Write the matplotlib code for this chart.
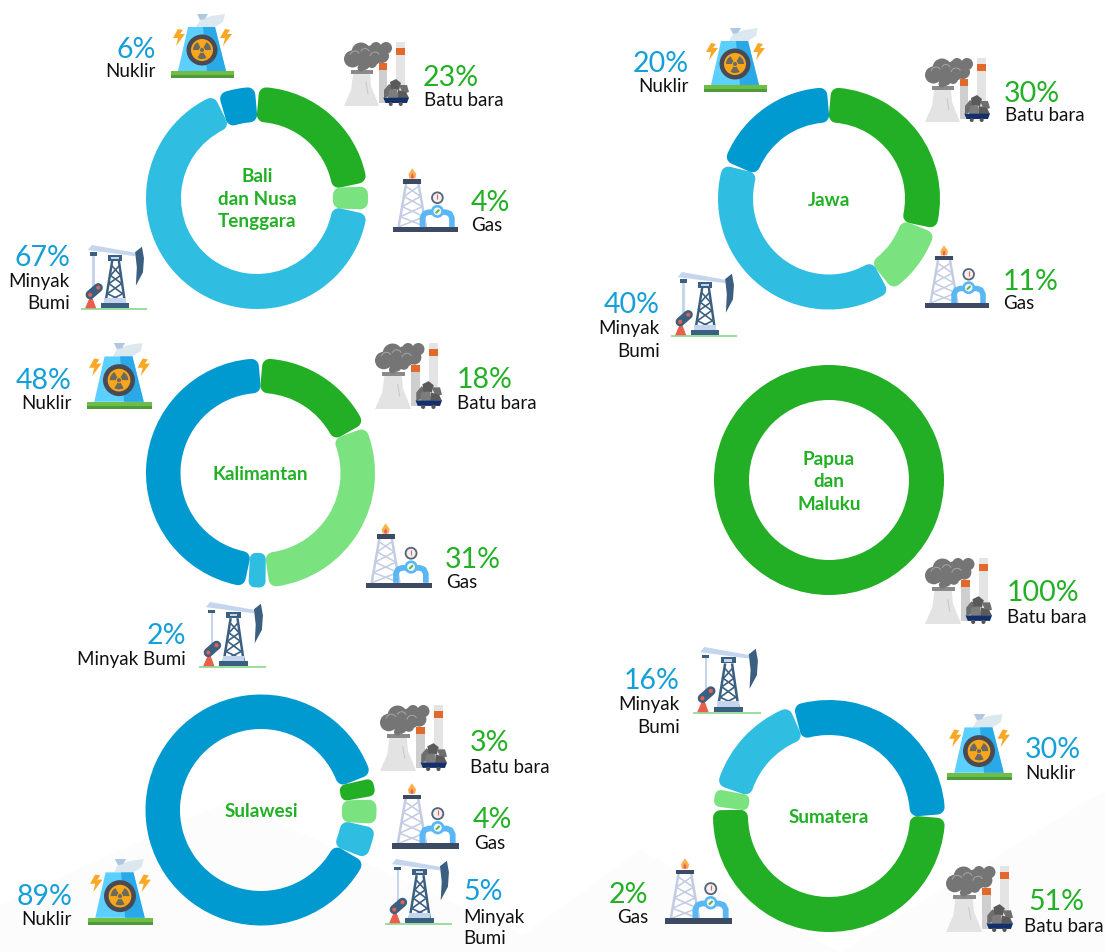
import numpy as np
import matplotlib
matplotlib.use("Agg")
import matplotlib.pyplot as plt
from matplotlib.patches import Polygon, Circle, Wedge

plt.rcParams['font.family'] = ['Lato', 'DejaVu Sans']

W, H = 1105, 952

# ---- data -----------------------------------------------------------------
energy_names = ["Batu bara", "Gas", "Minyak Bumi", "Nuklir"]
bali_values = [23, 4, 67, 6]
jawa_values = [30, 11, 40, 20]
kalimantan_values = [18, 31, 2, 48]
papua_values = [100, 0, 0, 0]
sulawesi_values = [3, 4, 5, 89]
sumatera_nuklir_first = [30, 51, 2, 16]
sumatera_names = ["Nuklir", "Batu bara", "Gas", "Minyak Bumi"]

C_BATU, C_GAS, C_MINYAK, C_NUKLIR = "#22AE25", "#7AE380", "#2FBDE1", "#0099D0"
colours = {"Batu bara": C_BATU, "Gas": C_GAS, "Minyak Bumi": C_MINYAK, "Nuklir": C_NUKLIR}
T_GREEN, T_BLUE = "#22B024", "#149FD8"

fig = plt.figure(figsize=(W / 100, H / 100), dpi=100, facecolor="white")

# pixel overlay for background, icons and text
ov = fig.add_axes([0, 0, 1, 1], zorder=2)
ov.set_xlim(0, W); ov.set_ylim(H, 0); ov.axis("off"); ov.patch.set_alpha(0)

bg = fig.add_axes([0, 0, 1, 1], zorder=0)
bg.set_xlim(0, W); bg.set_ylim(H, 0); bg.axis("off")
for pts in ([(0, 952), (0, 905), (230, 800), (560, 952)],
            ((500, 952), (640, 850), (840, 952)),
            ((840, 952), (1105, 790), (1105, 952))):
    bg.add_patch(Polygon(pts, closed=True, fc="#FCFCFC", ec="none"))


def donut(names, values, cx, cy, R, r, start, title):
    """One ring drawn with pie; wedges are then inset and stroked for round corners."""
    ax = fig.add_axes([(cx - R - 4) / W, 1 - (cy + R + 4) / H, (2 * R + 8) / W, (2 * R + 8) / H], zorder=1)
    vals = [v for v in values if v > 0]
    cols = [colours[n] for n, v in zip(names, values) if v > 0]
    wedges, _ = ax.pie(vals, colors=cols, startangle=90 - start, counterclock=False,
                       radius=R, wedgeprops=dict(width=R - r))
    ax.set_xlim(-R - 4, R + 4); ax.set_ylim(-R - 4, R + 4); ax.axis("off")
    rm = (R + r) / 2
    n = len(wedges)
    if n > 1:
        gap, min_arc = 0.8, 18.0
        lo = [w.theta1 for w in wedges]
        hi = [w.theta2 for w in wedges]
        for k in range(n):
            arc = np.radians(hi[k] - lo[k]) * rm
            if arc < min_arc:
                grow = np.degrees((min_arc - arc) / 2 / rm)
                lo[k] -= grow; hi[k] += grow
                # pie runs clockwise: previous wedge sits above, next wedge below
                lo[(k - 1) % n] += grow
                hi[(k + 1) % n] -= grow
        for k, w in enumerate(wedges):
            seen = np.radians(hi[k] - lo[k]) * rm - 2 * gap
            L = min(15.0, seen * 0.72)
            d = np.degrees((gap + L / 2) / rm)
            w.set_theta1(lo[k] + d); w.set_theta2(hi[k] - d)
            w.set_radius(R - L / 2); w.set_width(R - r - L)
            w.set_edgecolor(w.get_facecolor()); w.set_linewidth(L * 0.72)
            w.set_joinstyle("round")
    ys = np.arange(len(title)) * 22.5
    ys = ys - ys.mean() + cy
    for t, y in zip(title, ys):
        ov.text(cx, y + 7, t, ha="center", va="baseline", fontsize=13.6,
                fontweight="bold", color=T_GREEN)


# ---- icons (shapes in a 64-unit box) ----------------------------------------
class Ic:
    def __init__(self, x, y, w):
        self.x, self.y, self.s = x, y, w / 64.0
    def P(self, x, y):
        return (self.x + x * self.s, self.y + y * self.s)
    def poly(self, pts, c, z=3):
        ov.add_patch(Polygon([self.P(*p) for p in pts], closed=True, fc=c, ec="none", zorder=z))
    def rect(self, x0, y0, x1, y1, c, z=3):
        self.poly([(x0, y0), (x1, y0), (x1, y1), (x0, y1)], c, z)
    def circ(self, x, y, r, c, z=3):
        ov.add_patch(Circle(self.P(x, y), r * self.s, fc=c, ec="none", zorder=z))
    def line(self, pts, c, lw, z=3, cap="butt"):
        a = np.array([self.P(*p) for p in pts])
        ov.plot(a[:, 0], a[:, 1], color=c, lw=lw * self.s * 0.72, zorder=z,
                solid_capstyle=cap, solid_joinstyle="round")


def nuklir_icon(x, y, w):
    i = Ic(x, y, w)
    i.poly([(26, 13), (30, 6), (41, 2), (55, 0), (53, 8), (45, 13)], "#DCE8EF")
    i.poly([(27, 0), (38, 0), (35, 5), (30, 6)], "#AFC8E2")
    i.poly([(18, 13), (45, 13), (56, 57), (8, 57)], "#5BD0FF")
    i.poly([(33, 13), (45, 13), (56, 57), (37, 57)], "#29A9E8", 3.1)
    i.circ(32, 36, 15.5, "#4A4A55", 3.2)
    i.circ(32, 36, 11, "#F9A61A", 3.3)
    for a in (90, 210, 330):
        ov.add_patch(Wedge(i.P(32, 36), 9 * i.s, a - 30, a + 30, width=6 * i.s,
                           fc="#6A6A60", ec="none", zorder=3.4))
    i.circ(32, 36, 2, "#6A6A60", 3.5)
    for dx in (0, 47):
        i.poly([(8 + dx, 15), (3 + dx, 24), (8 + dx, 24), (6 + dx, 32), (15 + dx, 20),
                (10 + dx, 20), (13 + dx, 16)], "#F9A825")
    i.rect(1, 57, 64, 61, "#6EBE45")
    i.rect(1, 61, 64, 64, "#4E9A3C")


def batu_icon(x, y, w):
    i = Ic(x, y, w)
    i.rect(52, 0, 61, 56, "#E4E4E4")
    i.rect(52, 6.3, 61, 13, "#E2692B", 3.1)
    i.rect(35, 21, 43.3, 61, "#CFCFCF")
    i.rect(35, 21, 43.3, 28, "#E2692B", 3.1)
    i.poly([(9.3, 31), (26, 31), (27, 44), (35, 64), (0, 64), (7, 48)], "#E3E3E3", 3.2)
    i.line([(22, 40), (24, 52)], "#C8C8C8", 1, 3.3)
    i.rect(7, 28, 29, 32, "#8A8A8A", 3.3)
    for cxy, r in [((8.5, 17), 8.5), ((17, 10), 9.5), ((29, 13), 10), ((42, 6), 6),
                   ((32, 5.5), 5.5), ((38, 14), 7), ((20, 22), 6), ((17, 26), 3.5), ((28, 21), 5)]:
        i.circ(cxy[0], cxy[1], r, "#757575", 3.4)
    for cxy, r, a, b in [((11, 14), 5.5, 30, 170), ((21, 11), 5, 20, 160), ((31, 15), 5.5, 30, 170)]:
        p = i.P(*cxy)
        ov.add_patch(Wedge(p, r * i.s, -b, -a, width=1.0 * i.s, fc="#A4A4A4", ec="none", zorder=3.5))
    for pts, c in [([(40, 48), (45, 42), (50, 45), (49, 53), (40, 56)], "#6E6E6E"),
                   ([(46, 40), (52, 37), (57, 41), (55, 48), (47, 47)], "#5A5A5A"),
                   ([(55, 43), (63, 43), (65, 50), (59, 52)], "#6E6E6E"),
                   ([(45, 48), (53, 47), (55, 56), (44, 56)], "#7D7D7D"),
                   ([(54, 48), (62, 50), (65, 56), (54, 56)], "#5A5A5A")]:
        i.poly(pts, c, 3.5)
    i.poly([(39.3, 55.7), (65, 55.7), (63, 61), (41.5, 61)], "#14306B", 3.6)
    i.circ(46.7, 62, 2, "#555555", 3.6); i.circ(56.7, 62, 2, "#555555", 3.6)


def gas_icon(x, y, w):
    i = Ic(x, y, w)
    lat = "#C3CCE3"
    i.line([(13, 15), (5.5, 58)], lat, 2.4)
    i.line([(25, 15), (32.5, 58)], lat, 2.4)
    ys = [18, 28, 38, 48, 58]
    for k in range(4):
        y0, y1 = ys[k], ys[k + 1]
        f0 = (y0 - 15) / 43 * 7.5; f1 = (y1 - 15) / 43 * 7.5
        i.line([(13 - f0, y0), (25 + f1, y1)], lat, 1.5)
        i.line([(25 + f0, y0), (13 - f1, y1)], lat, 1.5)
    i.rect(10.3, 11, 28, 15.3, "#3C4A63", 3.2)
    i.poly([(19, 0.3), (23, 6), (22, 10.3), (16, 10.3), (15.3, 6)], "#F9B24A", 3.2)
    i.poly([(19, 5), (20.5, 8), (20, 10.3), (18, 10.3), (17.5, 8)], "#EF5B6B", 3.3)
    i.line([(29, 58), (29, 49), (31, 45), (35, 43.5), (52, 43.5), (56, 45), (58, 49), (58, 58)],
           "#59B7F5", 5.5, 3.3)
    i.circ(43.7, 29.3, 6.2, "#56657C", 3.4); i.circ(43.7, 29.3, 4.4, "#F2F0EC", 3.5)
    i.line([(43.7, 26), (43.7, 31)], "#EF5B6B", 1.1, 3.6)
    i.circ(43.7, 42.7, 6.4, "#59B7F5", 3.7); i.circ(43.7, 42.7, 3.8, "#F4F8F4", 3.8)
    i.line([(42, 44.5), (45.5, 41)], "#5FB548", 2, 3.9)
    i.rect(0.3, 57.7, 64.3, 63.3, "#3C4A63", 3.9)


def minyak_icon(x, y, w):
    i = Ic(x, y, w)
    navy = "#3A5F80"; pale = "#C5D5EE"
    i.rect(0, 62.3, 65, 64, "#9ADFA0")
    i.rect(11.3, 10.7, 13.3, 42, pale)
    i.poly([(4, 62.3), (8.3, 52.3), (11.3, 52.3), (15, 62.3)], "#E8604C")
    i.line([(9, 49), (17, 42)], navy, 9, 3.2, cap="round")
    i.circ(9, 49, 2, "#E8604C", 3.3); i.circ(17, 42, 2, "#E8604C", 3.3)
    i.line([(30.7, 15.7), (24, 57.3)], navy, 2.4)
    i.line([(37.3, 15.7), (43.3, 57.3)], navy, 2.4)
    i.line([(30, 20), (39, 30), (27.5, 38), (41, 48), (25, 56)], navy, 1.6)
    i.line([(38, 20), (29, 30), (40, 38), (26, 48), (43, 56)], navy, 1.6)
    i.rect(26.3, 10, 40.7, 15.7, navy, 3.2)
    i.rect(30, 11.5, 37, 14, pale, 3.3)
    i.rect(23, 52, 44, 57.3, pale, 3.2)
    i.rect(19.7, 57.3, 47.3, 62.3, navy, 3.2)
    i.poly([(6.7, 5), (10.7, 0), (54, 7.7), (53.3, 11)], pale, 3.4)
    i.rect(9, 7.3, 15.7, 10.7, navy, 3.5)
    i.poly([(53.3, 7), (60, 1.7), (62, 13), (61, 27), (54, 40), (55, 22)], navy, 3.5)


ICONS = {"Nuklir": nuklir_icon, "Batu bara": batu_icon, "Gas": gas_icon, "Minyak Bumi": minyak_icon}


def label(pct, lines, x, y_pct, y_lines, ha, colour, xl=None):
    ov.text(x, y_pct + 10, f"{pct}%", ha=ha, va="baseline", fontsize=20.5, color=colour)
    xl = x if xl is None else xl
    for t, y in zip(lines, y_lines):
        ov.text(xl, y + 6, t, ha=ha, va="baseline", fontsize=13.5, color="#111111")


# ---- donuts -----------------------------------------------------------------
donut(energy_names, bali_values, 257, 198, 111, 76, 0, ["Bali", "dan Nusa", "Tenggara"])
donut(energy_names, jawa_values, 829, 198.5, 111, 76, 0, ["Jawa"])
donut(energy_names, kalimantan_values, 260.5, 473, 114.5, 80, 0, ["Kalimantan"])
donut(energy_names, papua_values, 829, 480, 115, 80, 0, ["Papua", "dan", "Maluku"])
donut(energy_names, sulawesi_values, 261, 810, 115.5, 81, 73, ["Sulawesi"])
donut(sumatera_names, sumatera_nuklir_first, 829, 816, 116, 81, -19, ["Sumatera"])

# ---- icons ------------------------------------------------------------------
icon_places = [
    ("Nuklir", 170, 14, 64), ("Batu bara", 344, 42, 64), ("Gas", 393, 168, 65), ("Minyak Bumi", 81, 245, 65),
    ("Nuklir", 703, 28, 64), ("Batu bara", 925, 58, 64), ("Gas", 925, 245, 64), ("Minyak Bumi", 671, 272, 65),
    ("Nuklir", 86, 343, 66), ("Batu bara", 375, 343, 66), ("Gas", 366, 523, 66), ("Minyak Bumi", 199, 602, 66),
    ("Batu bara", 925, 558, 66),
    ("Batu bara", 380, 705, 66), ("Gas", 392, 783, 67), ("Minyak Bumi", 385, 859, 66), ("Nuklir", 87, 859, 66),
    ("Minyak Bumi", 693, 647, 67), ("Nuklir", 946, 714, 66), ("Gas", 665, 858, 67), ("Batu bara", 946, 866, 66),
]
for name, x, y, w in icon_places:
    ICONS[name](x, y, w)

# ---- labels -----------------------------------------------------------------
label(bali_values[3], ["Nuklir"], 156, 48, [71], "right", T_BLUE)
label(bali_values[0], ["Batu bara"], 423, 76, [100], "left", T_GREEN, 424)
label(bali_values[1], ["Gas"], 471, 201, [225], "left", T_GREEN)
label(bali_values[2], ["Minyak", "Bumi"], 70, 256, [281, 303], "right", T_BLUE)

label(jawa_values[3], ["Nuklir"], 689, 62, [86], "right", T_BLUE)
label(jawa_values[0], ["Batu bara"], 1004, 92, [115], "left", T_GREEN, 1005)
label(jawa_values[1], ["Gas"], 1003, 280, [303], "left", T_GREEN)
label(jawa_values[2], ["Minyak", "Bumi"], 660, 303, [328, 351], "right", T_BLUE)

label(kalimantan_values[3], ["Nuklir"], 72, 379, [403], "right", T_BLUE)
label(kalimantan_values[0], ["Batu bara"], 457, 378, [403], "left", T_GREEN)
label(kalimantan_values[1], ["Gas"], 445, 558, [582], "left", T_GREEN, 446)
label(kalimantan_values[2], ["Minyak Bumi"], 186, 634, [659], "right", T_BLUE)

label(papua_values[0], ["Batu bara"], 1007, 591, [617], "left", T_GREEN)

label(sulawesi_values[0], ["Batu bara"], 470, 741, [767], "left", T_GREEN)
label(sulawesi_values[1], ["Gas"], 473, 818, [843], "left", T_GREEN, 474)
label(sulawesi_values[2], ["Minyak", "Bumi"], 463, 890, [917, 938], "left", T_BLUE)
label(sulawesi_values[3], ["Nuklir"], 72, 895, [919], "right", T_BLUE)

label(sumatera_nuklir_first[3], ["Minyak", "Bumi"], 680, 679, [704, 727], "right", T_BLUE)
label(sumatera_nuklir_first[0], ["Nuklir"], 1025, 748, [773], "left", T_BLUE)
label(sumatera_nuklir_first[2], ["Gas"], 648, 893, [917], "right", T_GREEN)
label(sumatera_nuklir_first[1], ["Batu bara"], 1028, 900, [926], "left", T_GREEN, 1024)

fig.savefig("out.png", dpi=100)
